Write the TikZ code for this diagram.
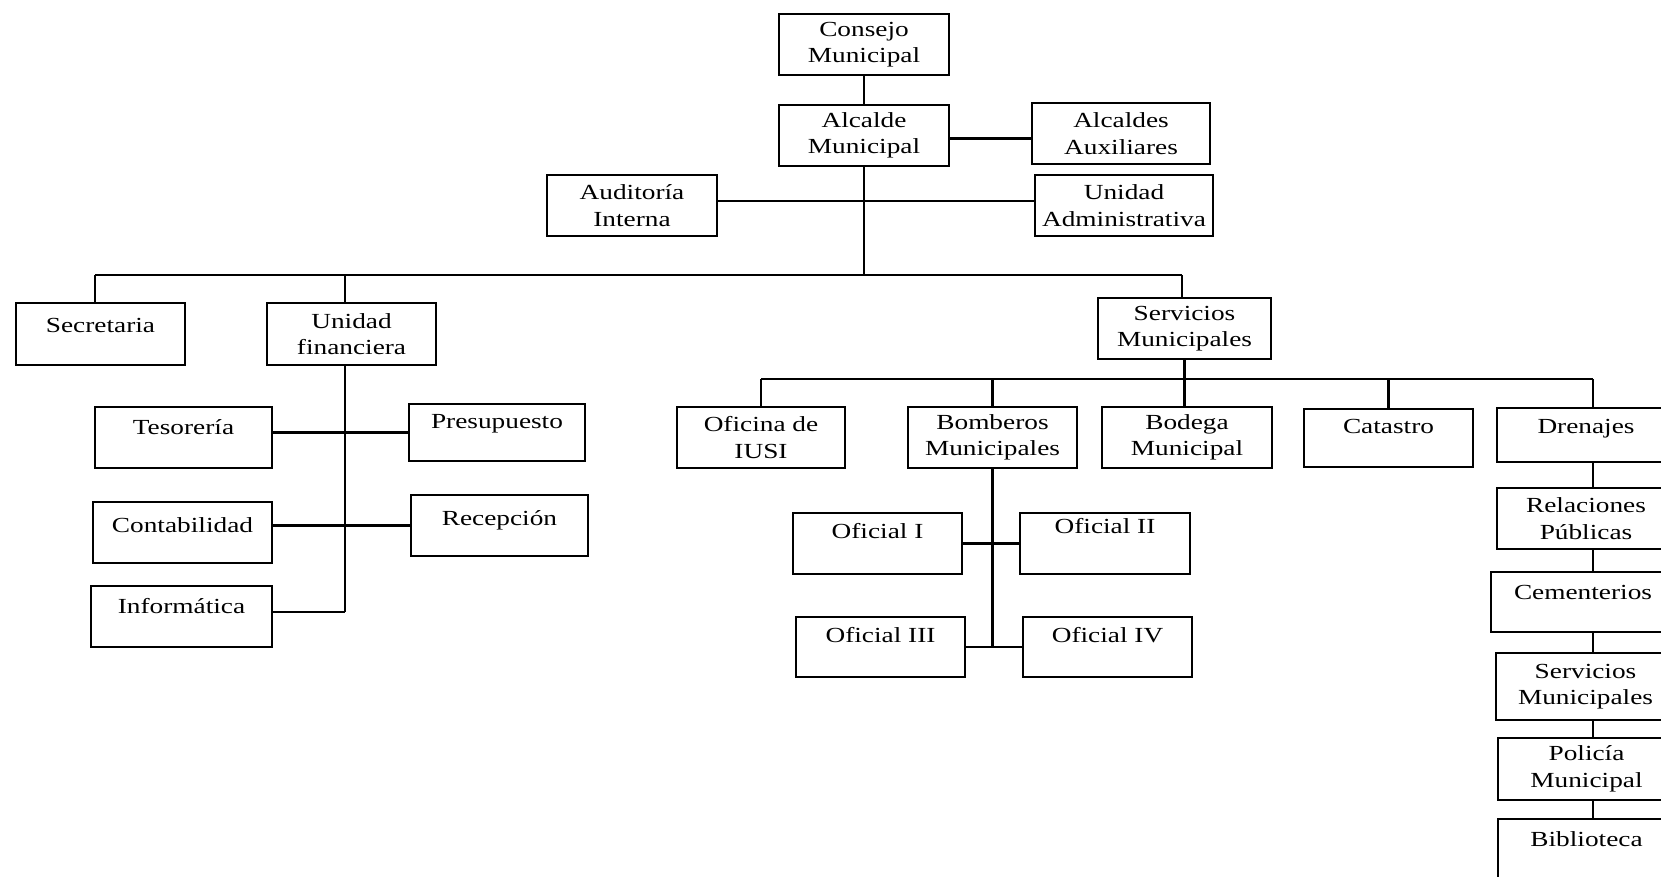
\documentclass[tikz,border=0pt]{standalone}
\usepackage{fontspec}
\setmainfont{Liberation Serif}[FakeStretch=1.27]
\tikzset{
  box/.style={draw, line width=2pt, inner sep=0pt, outer sep=0pt, align=center,
    font=\fontsize{21.5}{26.5}\selectfont},
  one/.style={text height=15pt, text depth=#1},
  conn/.style={line width=2.1pt},
  trunk/.style={line width=2.8pt}
}
% #1 options, #2 name, #3 x1, #4 y1, #5 x2, #6 y2, #7 text
\newcommand\bx[7][]{%
  \node[box,minimum width={#5pt-#3pt},minimum height={#6pt-#4pt},#1] (#2)
    at ({(#3+#5)/2},{(#4+#6)/2}) {#7};}
\begin{document}
\begin{tikzpicture}[x=1pt,y=-1pt]
\fill[white] (0,0) rectangle (1661,876);
\useasboundingbox (0,0) rectangle (1661,876);

\bx{consejo}{779}{14}{949}{75}{Consejo\\Municipal}
\bx{alcalde}{779}{105}{949}{166}{Alcalde\\Municipal}
\bx{aux}{1032}{103}{1210}{164}{Alcaldes\\Auxiliares}
\bx{aud}{547}{175}{717}{236}{Auditoría\\Interna}
\bx{uadm}{1035}{175}{1213}{236}{Unidad\\Administrativa}

\bx[one=19pt]{sec}{16}{303}{185}{365}{Secretaria}
\bx{uf}{267}{303}{436}{365}{Unidad\\financiera}
\bx{serv}{1098}{298}{1271}{359}{Servicios\\Municipales}

\bx[one=22pt]{tes}{95}{407}{272}{468}{Tesorería}
\bx[one=24pt]{pre}{409}{404}{585}{461}{Presupuesto}
\bx[one=16pt]{con}{93}{502}{272}{563}{Contabilidad}
\bx[one=16pt]{rec}{411}{495}{588}{556}{Recepción}
\bx[one=22pt]{inf}{91}{586}{272}{647}{Informática}

\bx{iusi}{677}{407}{845}{468}{Oficina de\\IUSI}
\bx{bomb}{908}{407}{1077}{468}{Bomberos\\Municipales}
\bx{bod}{1102}{407}{1272}{468}{Bodega\\Municipal}
\bx[one=25pt]{cat}{1304}{409}{1473}{467}{Catastro}
\bx[one=19pt]{dren}{1497}{408}{1675}{462}{Drenajes}
\bx{rel}{1497}{488}{1675}{549}{Relaciones\\Públicas}
\bx[one=21pt]{cem}{1491}{572}{1675}{632}{Cementerios}
\bx{serv2}{1496}{653}{1675}{720}{Servicios\\Municipales}
\bx{pol}{1498}{738}{1675}{800}{Policía\\Municipal}
\bx[one=22pt]{bib}{1498}{819}{1675}{880}{Biblioteca}

\bx[one=26pt]{o1}{793}{513}{962}{574}{Oficial I}
\bx[one=36pt]{o2}{1020}{513}{1190}{574}{Oficial II}
\bx[one=25pt]{o3}{796}{617}{965}{677}{Oficial III}
\bx[one=25pt]{o4}{1023}{617}{1192}{677}{Oficial IV}

% top part
\draw[conn] (consejo.south) -- (alcalde.north);
\draw[conn] ([yshift=-3pt]alcalde.east) -- ([yshift=-3pt]alcalde.east -| aux.west);
\coordinate (busL) at (95,275);
\coordinate (busR) at (1182,275);
\draw[trunk] (alcalde.south) -- (alcalde.south |- busL);
\draw[conn] ([yshift=4.5pt]aud.east) -- ([yshift=4.5pt]uadm.west);
\draw[conn] (busL) -- (busR);
\draw[conn] (busL) -- (busL |- sec.north);
\coordinate (ufb) at ([xshift=-6.5pt]uf.south);
\draw[conn] (ufb |- busL) -- (ufb |- uf.north);
\draw[conn] (busR) -- (busR |- serv.north);

% finance
\draw[trunk] (ufb) -- (ufb |- 0,612);
\draw[conn] (tes.east |- pre.west) -- (pre.west);
\draw[conn] (con.east |- rec.west) -- (rec.west);
\draw[conn] ([yshift=4.5pt]inf.east) -- ([yshift=4.5pt]inf.east -| ufb);

% services
\coordinate (sbL) at (761,379);
\coordinate (sbR) at (1593,379);
\draw[conn] (sbL) -- (sbR);
\draw[conn] (sbL) -- (sbL |- iusi.north);
\draw[conn] (bomb.north |- sbL) -- (bomb.north);
\draw[trunk] (serv.south) -- (serv.south |- bod.north);
\draw[conn] (cat.north |- sbL) -- (cat.north);
\draw[conn] (sbR) -- (sbR |- dren.north);
\draw[conn] (sbR |- dren.south) -- (sbR |- rel.north);
\draw[conn] (sbR |- rel.south) -- (sbR |- cem.north);
\draw[conn] (sbR |- cem.south) -- (sbR |- serv2.north);
\draw[conn] (sbR |- serv2.south) -- (sbR |- pol.north);
\draw[conn] (sbR |- pol.south) -- (sbR |- bib.north);

% bomberos
\draw[conn] (bomb.south) -- (bomb.south |- o3.east);
\draw[conn] (o1.east) -- (o2.west);
\draw[conn] (o3.east) -- (o4.west);
\end{tikzpicture}
\end{document}
